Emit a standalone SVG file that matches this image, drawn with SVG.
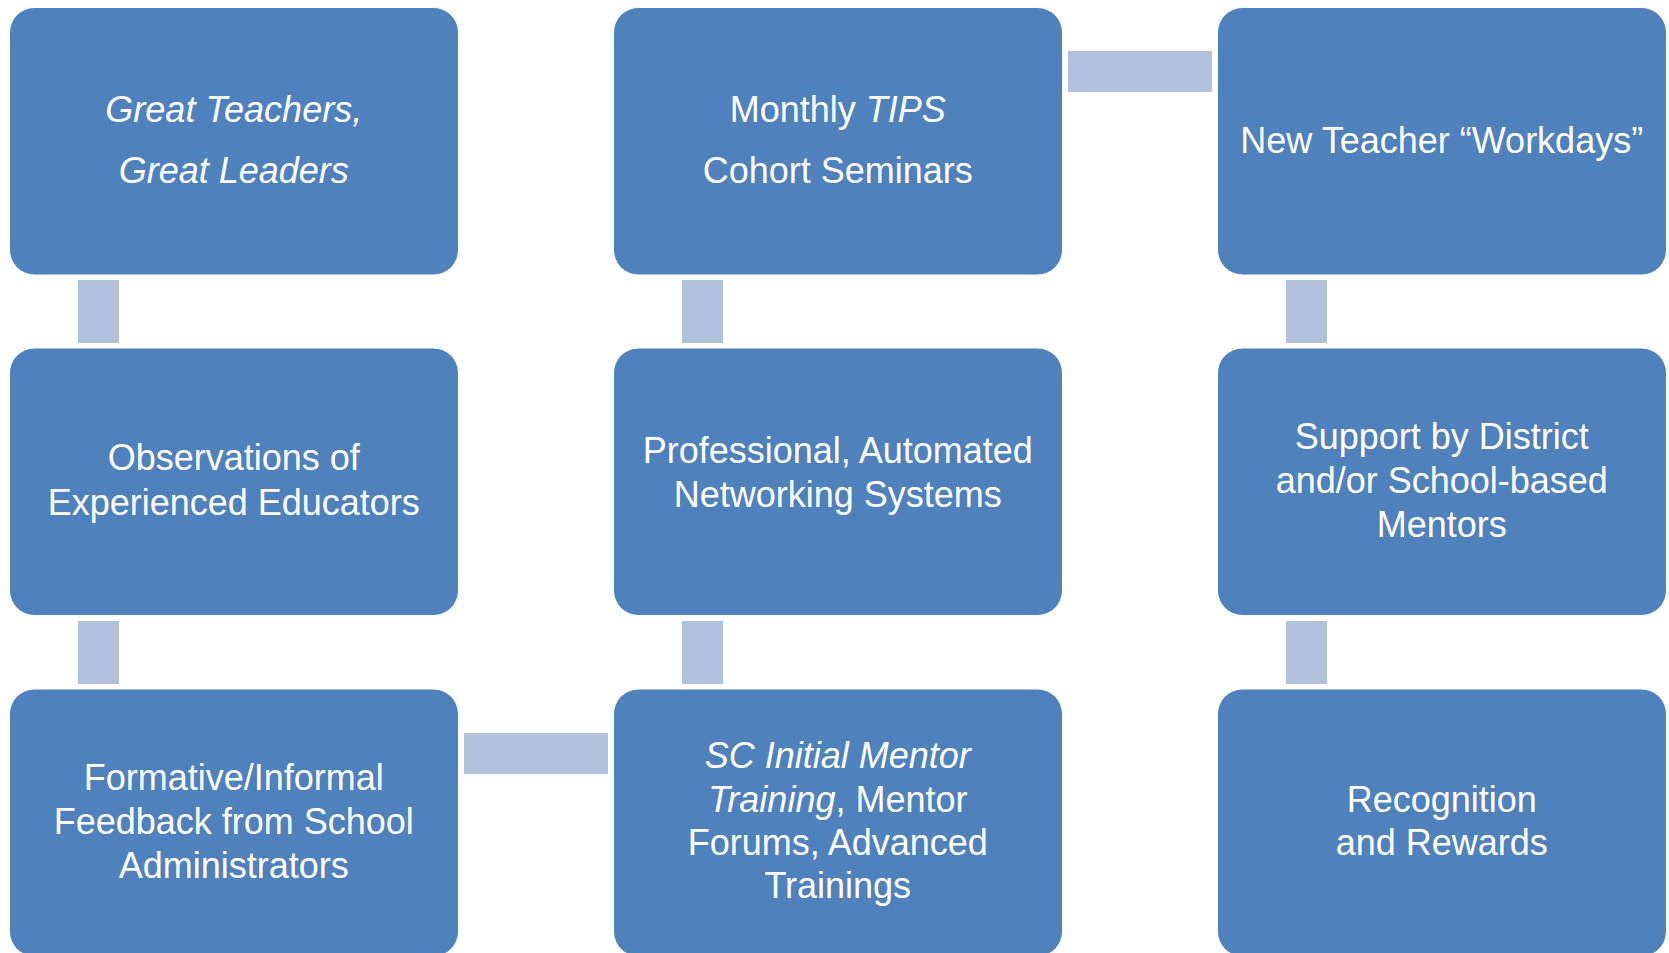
<svg xmlns="http://www.w3.org/2000/svg" width="1669" height="953" viewBox="0 0 1669 953">
  <style>
    .box { fill: #4F81BD; stroke: #FFFFFF; stroke-width: 1; }
    .link { fill: #B3C2DC; }
    .label { font-family: "Liberation Sans", Arial, sans-serif; font-size: 36px; fill: #FFFFFF; text-anchor: middle; }
    .it { font-style: italic; }
  </style>
  <rect width="1669" height="953" fill="#FFFFFF"/>

  <!-- connectors between the steps -->
  <g id="connectors">
    <rect class="link" x="78" y="280" width="41" height="63"/>
    <rect class="link" x="78" y="621" width="41" height="63"/>
    <rect class="link" x="464" y="733" width="144" height="41"/>
    <rect class="link" x="682" y="621" width="41" height="63"/>
    <rect class="link" x="682" y="280" width="41" height="63"/>
    <rect class="link" x="1068" y="51" width="144" height="41"/>
    <rect class="link" x="1286" y="280" width="41" height="63"/>
    <rect class="link" x="1286" y="621" width="41" height="63"/>
  </g>

  <!-- column 1 -->
  <g id="great-teachers">
    <rect class="box" x="9.5" y="7.5" width="449" height="267.5" rx="25"/>
    <text class="label it" x="233.75" y="122">Great Teachers,</text>
    <text class="label it" x="233.75" y="183">Great Leaders</text>
  </g>
  <g id="observations">
    <rect class="box" x="9.5" y="348" width="449" height="267.5" rx="25"/>
    <text class="label" x="233.75" y="470">Observations of</text>
    <text class="label" x="233.75" y="515">Experienced Educators</text>
  </g>
  <g id="feedback">
    <rect class="box" x="9.5" y="689" width="449" height="267.5" rx="25"/>
    <text class="label" x="233.75" y="790">Formative/Informal</text>
    <text class="label" x="233.75" y="834">Feedback from School</text>
    <text class="label" x="233.75" y="877.5">Administrators</text>
  </g>

  <!-- column 2 -->
  <g id="tips-seminars">
    <rect class="box" x="613.5" y="7.5" width="449" height="267.5" rx="25"/>
    <text class="label" x="837.75" y="122">Monthly <tspan class="it">TIPS</tspan></text>
    <text class="label" x="837.75" y="183">Cohort Seminars</text>
  </g>
  <g id="networking">
    <rect class="box" x="613.5" y="348" width="449" height="267.5" rx="25"/>
    <text class="label" x="837.75" y="462.5">Professional, Automated</text>
    <text class="label" x="837.75" y="506.5">Networking Systems</text>
  </g>
  <g id="mentor-training">
    <rect class="box" x="613.5" y="689" width="449" height="267.5" rx="25"/>
    <text class="label it" x="837.75" y="768">SC Initial Mentor</text>
    <text class="label" x="837.75" y="812"><tspan class="it">Training</tspan>, Mentor</text>
    <text class="label" x="837.75" y="855">Forums, Advanced</text>
    <text class="label" x="837.75" y="898">Trainings</text>
  </g>

  <!-- column 3 -->
  <g id="workdays">
    <rect class="box" x="1217.5" y="7.5" width="449" height="267.5" rx="25"/>
    <text class="label" x="1441.75" y="153">New Teacher “Workdays”</text>
  </g>
  <g id="mentor-support">
    <rect class="box" x="1217.5" y="348" width="449" height="267.5" rx="25"/>
    <text class="label" x="1441.75" y="449">Support by District</text>
    <text class="label" x="1441.75" y="492.5">and/or School-based</text>
    <text class="label" x="1441.75" y="536.5">Mentors</text>
  </g>
  <g id="recognition">
    <rect class="box" x="1217.5" y="689" width="449" height="267.5" rx="25"/>
    <text class="label" x="1441.75" y="812">Recognition</text>
    <text class="label" x="1441.75" y="855">and Rewards</text>
  </g>
</svg>
